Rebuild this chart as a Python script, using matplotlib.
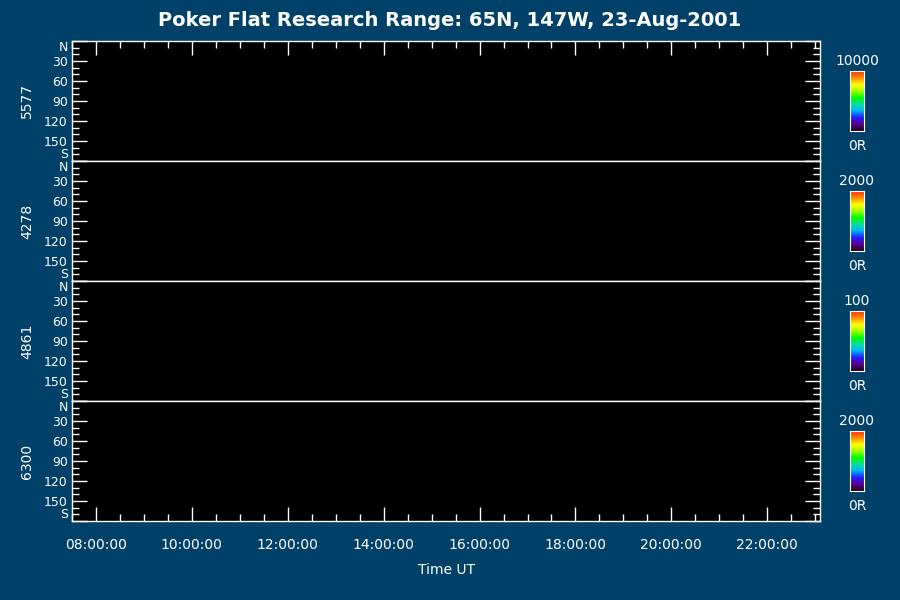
import matplotlib
matplotlib.use("Agg")
import matplotlib.pyplot as plt
import numpy as np
from matplotlib.colors import LinearSegmentedColormap

wavelengths = ["5577", "4278", "4861", "6300"]
vmax_labels = ["10000", "2000", "100", "2000"]
ytick_vals = [0, 30, 60, 90, 120, 150, 180]
ytick_labels = ["N", "30", "60", "90", "120", "150", "S"]
xtick_hours = [8, 10, 12, 14, 16, 18, 20, 22]
xtick_labels = ["08:00:00", "10:00:00", "12:00:00", "14:00:00", "16:00:00", "18:00:00", "20:00:00", "22:00:00"]
xlim = (7.52, 23.1)

bg = "#00416a"
W, H = 900, 600
fig = plt.figure(figsize=(9, 6), dpi=100, facecolor=bg)
plt.rcParams['font.family'] = ['DejaVu Sans']

cmap = LinearSegmentedColormap.from_list("idl", ["#1a0020", "#5a0090", "#2020ff", "#00b0ff", "#00e0a0", "#00ff00", "#a0ff00", "#ffff00", "#ff9000", "#ff3000"])

x0, x1 = 72, 820
top = 41
ph = 120
n = len(wavelengths)
for i, (wl, vm) in enumerate(zip(wavelengths, vmax_labels)):
    yt = top + i * ph
    ax = fig.add_axes([x0 / W, 1 - (yt + ph) / H, (x1 - x0) / W, ph / H])
    ax.set_facecolor("black")
    ax.set_xlim(*xlim)
    ax.set_ylim(180, 0)
    for s in ax.spines.values():
        s.set_color("white")
        s.set_linewidth(1)
    ax.set_yticks(ytick_vals)
    ax.set_yticklabels(ytick_labels)
    ax.set_yticks(np.arange(0, 181, 10), minor=True)
    ax.set_xticks(xtick_hours)
    ax.set_xticks(np.arange(7.5, 23.1, 0.5), minor=True)
    ax.tick_params(which="both", direction="in", colors="white", right=True,
                   top=(i == 0), bottom=(i == n - 1), labelsize=10, width=1)
    ax.tick_params(axis="y", which="major", length=11, labelsize=9)
    ax.tick_params(axis="y", which="minor", length=5)
    ax.tick_params(axis="x", which="major", length=10)
    ax.tick_params(axis="x", which="minor", length=5)
    ax.tick_params(axis="y", pad=3)
    labs = ax.get_yticklabels()
    labs[0].set_verticalalignment("top")
    labs[-1].set_verticalalignment("bottom")
    if i == n - 1:
        ax.set_xticklabels(xtick_labels)
        ax.tick_params(axis="x", pad=12)
        ax.set_xlabel("Time UT", color="white", fontsize=10, labelpad=8)
    else:
        ax.set_xticklabels([])
    fig.text(27 / W, 1 - (yt + ph / 2) / H, wl, rotation=90, color="white", fontsize=10, ha="center", va="center")
    cax = fig.add_axes([850 / W, 1 - (yt + 90) / H, 14 / W, 60 / H])
    cax.imshow(np.linspace(1, 0, 100)[:, None], aspect="auto", cmap=cmap, extent=[0, 1, 0, 1])
    cax.set_xticks([]); cax.set_yticks([])
    for s in cax.spines.values():
        s.set_color("white")
    fig.text(857 / W, 1 - (yt + 20) / H, vm, color="white", fontsize=10, ha="center", va="center")
    fig.text(857 / W, 1 - (yt + 105) / H, "0R", color="white", fontsize=10, ha="center", va="center")

fig.text(450 / W, 1 - 21 / H, "Poker Flat Research Range: 65N, 147W, 23-Aug-2001", color="white",
         fontsize=14, fontweight="bold", ha="center", va="center")
fig.savefig("out.png", dpi=100, facecolor=bg)
